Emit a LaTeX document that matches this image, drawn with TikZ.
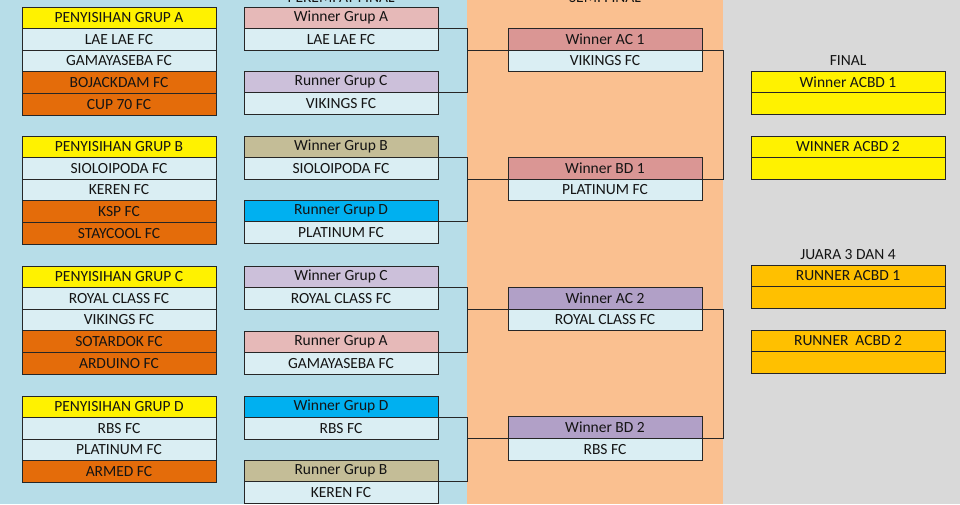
\documentclass[tikz,border=0pt]{standalone}
\usepackage{fontspec}
\setmainfont{Carlito}
\usetikzlibrary{positioning}
\definecolor{bgblue}{RGB}{183,221,232}
\definecolor{bgorange}{RGB}{250,192,144}
\definecolor{bggray}{RGB}{217,217,217}
\definecolor{teamblue}{RGB}{218,238,243}
\definecolor{outorange}{RGB}{228,108,10}
\definecolor{pinkhd}{RGB}{230,185,184}
\definecolor{lilachd}{RGB}{204,192,218}
\definecolor{tanhd}{RGB}{196,189,151}
\definecolor{cyanhd}{RGB}{0,176,240}
\definecolor{rosehd}{RGB}{218,150,148}
\definecolor{violethd}{RGB}{177,160,199}
\definecolor{goldhd}{RGB}{255,192,0}

\begin{document}
\begin{tikzpicture}[
x=1pt, y=-1pt,
cell/.style={draw=black!85, line width=0.9pt, minimum width=194pt, minimum height=21.6pt, inner sep=0pt, outer sep=0pt, text=black!92, font=\fontsize{15.5}{16}\selectfont},
team/.style={cell, fill=teamblue},
elim/.style={cell, fill=outorange},
grp/.style={cell, fill=yellow, anchor=north west},
hd/.style={cell, fill=#1, anchor=north west},
title/.style={text=black!92, font=\fontsize{15.5}{16}\selectfont},
wire/.style={draw=black!85, line width=0.9pt}
]
\useasboundingbox (0,0) rectangle (960,504);
\fill[bgblue] (0,0) rectangle (467,504);
\fill[bgorange] (467,0) rectangle (723,504);
\fill[bggray] (723,0) rectangle (960,504);

% round titles
\node[title, anchor=base] (tqf) at (341,2) {PEREMPAT FINAL};
\node[title, anchor=base] (tsf) at (605,2) {SEMI FINAL};
\node[title] (tfin) at (848,61) {FINAL};
\node[title] (tjr) at (848,255) {JUARA 3 DAN 4};

% group stage
\node[grp] (gA) at (22,7) {PENYISIHAN GRUP A};
\node[team, below=0pt of gA] (gA1) {LAE LAE FC};
\node[team, below=0pt of gA1] (gA2) {GAMAYASEBA FC};
\node[elim, below=0pt of gA2] (gA3) {BOJACKDAM FC};
\node[elim, below=0pt of gA3] (gA4) {CUP 70 FC};

\node[grp] (gB) at (22,136) {PENYISIHAN GRUP B};
\node[team, below=0pt of gB] (gB1) {SIOLOIPODA FC};
\node[team, below=0pt of gB1] (gB2) {KEREN FC};
\node[elim, below=0pt of gB2] (gB3) {KSP FC};
\node[elim, below=0pt of gB3] (gB4) {STAYCOOL FC};

\node[grp] (gC) at (22,266) {PENYISIHAN GRUP C};
\node[team, below=0pt of gC] (gC1) {ROYAL CLASS FC};
\node[team, below=0pt of gC1] (gC2) {VIKINGS FC};
\node[elim, below=0pt of gC2] (gC3) {SOTARDOK FC};
\node[elim, below=0pt of gC3] (gC4) {ARDUINO FC};

\node[grp] (gD) at (22,396) {PENYISIHAN GRUP D};
\node[team, below=0pt of gD] (gD1) {RBS FC};
\node[team, below=0pt of gD1] (gD2) {PLATINUM FC};
\node[elim, below=0pt of gD2] (gD3) {ARMED FC};

% quarter final
\node[hd=pinkhd] (qA1) at (244,7) {Winner Grup A};
\node[team, below=0pt of qA1] (qA1t) {LAE LAE FC};
\node[hd=lilachd] (qA2) at (244,71) {Runner Grup C};
\node[team, below=0pt of qA2] (qA2t) {VIKINGS FC};
\node[hd=tanhd] (qB1) at (244,136) {Winner Grup B};
\node[team, below=0pt of qB1] (qB1t) {SIOLOIPODA FC};
\node[hd=cyanhd] (qB2) at (244,200) {Runner Grup D};
\node[team, below=0pt of qB2] (qB2t) {PLATINUM FC};
\node[hd=lilachd] (qC1) at (244,266) {Winner Grup C};
\node[team, below=0pt of qC1] (qC1t) {ROYAL CLASS FC};
\node[hd=pinkhd] (qC2) at (244,331) {Runner Grup A};
\node[team, below=0pt of qC2] (qC2t) {GAMAYASEBA FC};
\node[hd=cyanhd] (qD1) at (244,396) {Winner Grup D};
\node[team, below=0pt of qD1] (qD1t) {RBS FC};
\node[hd=tanhd] (qD2) at (244,460) {Runner Grup B};
\node[team, below=0pt of qD2] (qD2t) {KEREN FC};

% semi final
\node[hd=rosehd] (sAC1) at (508,28.4) {Winner AC 1};
\node[team, below=0pt of sAC1] (sAC1t) {VIKINGS FC};
\node[hd=rosehd] (sBD1) at (508,157.4) {Winner BD 1};
\node[team, below=0pt of sBD1] (sBD1t) {PLATINUM FC};
\node[hd=violethd] (sAC2) at (508,287.4) {Winner AC 2};
\node[team, below=0pt of sAC2] (sAC2t) {ROYAL CLASS FC};
\node[hd=violethd] (sBD2) at (508,416.8) {Winner BD 2};
\node[team, below=0pt of sBD2] (sBD2t) {RBS FC};

% final and third place
\node[hd=yellow] (fW1) at (751,71) {Winner ACBD 1};
\node[cell, fill=yellow, below=0pt of fW1] (fW1t) {};
\node[hd=yellow] (fW2) at (751,136) {WINNER ACBD 2};
\node[cell, fill=yellow, below=0pt of fW2] (fW2t) {};
\node[hd=goldhd] (fR1) at (751,265) {RUNNER ACBD 1};
\node[cell, fill=goldhd, below=0pt of fR1] (fR1t) {};
\node[hd=goldhd] (fR2) at (751,330) {RUNNER\ \ ACBD 2};
\node[cell, fill=goldhd, below=0pt of fR2] (fR2t) {};

% brackets
\draw[wire] (qA1t.north east) -- ++(29,0) |- (qA2t.north east);
\draw[wire] (qB1t.north east) -- ++(29,0) |- (qB2t.north east);
\draw[wire] (qC1t.north east) -- ++(29,0) |- (qC2t.north east);
\draw[wire] (qD1t.north east) -- ++(29,0) |- (qD2t.north east);
\draw[wire] (sAC1t.north west) -- ++(-41,0);
\draw[wire] (sBD1t.north west) -- ++(-41,0);
\draw[wire] (sAC2t.north west) -- ++(-41,0);
\draw[wire] (sBD2t.north west) -- ++(-41,0);
\draw[wire] (sAC1t.north east) -- ++(21,0) |- (sBD1t.north east);
\draw[wire] (sAC2t.north east) -- ++(21,0) |- (sBD2t.north east);
\end{tikzpicture}
\end{document}
